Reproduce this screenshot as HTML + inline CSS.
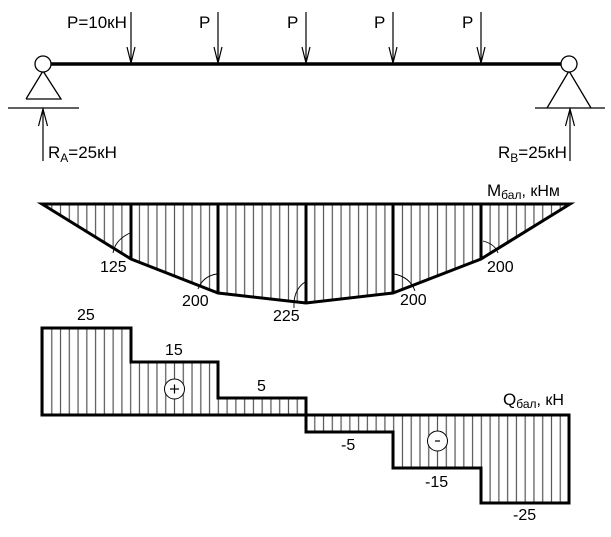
<!DOCTYPE html>
<html><head><meta charset="utf-8"><style>
html,body{margin:0;padding:0;background:#fff;}
svg{display:block;}
text{font-family:"Liberation Sans",Arial,sans-serif;fill:#000;}
</style></head><body>
<svg width="611" height="537" viewBox="0 0 611 537" xmlns="http://www.w3.org/2000/svg">
<defs>
<pattern id="h" patternUnits="userSpaceOnUse" x="38.62" y="0" width="8.767" height="20">
<line x1="4.38" y1="0" x2="4.38" y2="20" stroke="#555" stroke-width="1.2"/>
</pattern>
</defs>

<!-- Beam -->
<line x1="51" y1="64" x2="561" y2="64" stroke="#000" stroke-width="3.5"/>
<!-- Left support -->
<polyline points="26,99 43,71 61,99 26,99" fill="none" stroke="#000" stroke-width="1.3"/>
<circle cx="43" cy="64" r="8" fill="#fff" stroke="#000" stroke-width="1.3"/>
<line x1="8" y1="108" x2="79" y2="108" stroke="#000" stroke-width="1.3"/>
<line x1="43" y1="109" x2="43" y2="161" stroke="#000" stroke-width="1.2"/>
<polyline points="38.5,126 43,109 47.5,126" fill="none" stroke="#000" stroke-width="1.2"/>
<!-- Right support -->
<polyline points="547,108 569,71 591,108" fill="none" stroke="#000" stroke-width="1.3"/>
<circle cx="569" cy="64" r="8" fill="#fff" stroke="#000" stroke-width="1.3"/>
<line x1="535" y1="108" x2="605" y2="108" stroke="#000" stroke-width="1.3"/>
<line x1="570" y1="109" x2="570" y2="161" stroke="#000" stroke-width="1.2"/>
<polyline points="565.5,126 570,109 574.5,126" fill="none" stroke="#000" stroke-width="1.2"/>

<!-- Loads -->
<g stroke="#000" stroke-width="1.2" fill="none">
<line x1="131" y1="12" x2="131" y2="62"/><polyline points="127,47 131,63 135,47"/>
<line x1="218" y1="12" x2="218" y2="62"/><polyline points="214,47 218,63 222,47"/>
<line x1="306" y1="12" x2="306" y2="62"/><polyline points="302,47 306,63 310,47"/>
<line x1="393" y1="12" x2="393" y2="62"/><polyline points="389,47 393,63 397,47"/>
<line x1="481" y1="12" x2="481" y2="62"/><polyline points="477,47 481,63 485,47"/>
</g>
<g font-size="17">
<text x="67" y="28">P=10кН</text>
<text x="199" y="28">P</text>
<text x="287" y="28">P</text>
<text x="374" y="28">P</text>
<text x="462" y="28">P</text>
<text x="48" y="158">R<tspan font-size="12" dy="4">A</tspan><tspan dy="-4">=25кН</tspan></text>
<text x="498" y="158">R<tspan font-size="12" dy="4">B</tspan><tspan dy="-4">=25кН</tspan></text>
</g>

<!-- Moment diagram -->
<polygon points="42,204 131,259 218,293 306,303 393,293 481,259 570,204" fill="url(#h)"/>
<g stroke="#000" stroke-width="3">
<line x1="131" y1="204" x2="131" y2="259"/>
<line x1="218" y1="204" x2="218" y2="293"/>
<line x1="306" y1="204" x2="306" y2="303"/>
<line x1="393" y1="204" x2="393" y2="293"/>
<line x1="481" y1="204" x2="481" y2="259"/>
</g>
<polygon points="42,204 131,259 218,293 306,303 393,293 481,259 570,204" fill="none" stroke="#000" stroke-width="3" stroke-linejoin="miter"/>
<g stroke="#000" stroke-width="0.9" fill="none">
<path d="M113,253 Q115,240 130,233"/>
<path d="M198,289 Q203,276 217,274"/>
<path d="M294,308 Q293,290 305,282"/>
<path d="M394,274 Q410,277 415,291"/>
<path d="M483,241 Q495,244 498,253"/>
</g>
<g font-size="16">
<text x="100" y="272">125</text>
<text x="182" y="306">200</text>
<text x="273" y="321">225</text>
<text x="400" y="305">200</text>
<text x="487" y="272">200</text>
<text x="487" y="196" font-size="17">M<tspan font-size="12" dy="3">бал</tspan><tspan dy="-3" font-size="16">, кНм</tspan></text>
</g>

<!-- Shear diagram -->
<polygon points="42,415 42,328 131,328 131,362 218,362 218,398 306,398 306,415" fill="url(#h)"/>
<polygon points="306,415 306,432 393,432 393,468 481,468 481,503 569,503 569,415" fill="url(#h)"/>
<polyline points="306,415 42,415 42,328 131,328 131,362 218,362 218,398 306,398 306,432 393,432 393,468 481,468 481,503 569,503 569,415 306,415" fill="none" stroke="#000" stroke-width="3"/>
<circle cx="174.5" cy="389" r="10" fill="#fff" stroke="#000" stroke-width="1"/>
<line x1="170" y1="389" x2="179" y2="389" stroke="#000" stroke-width="1.2"/>
<line x1="174.5" y1="384.5" x2="174.5" y2="393.5" stroke="#000" stroke-width="1.2"/>
<circle cx="437.5" cy="441" r="10" fill="#fff" stroke="#000" stroke-width="1"/>
<line x1="435" y1="441" x2="440" y2="441" stroke="#000" stroke-width="1.2"/>
<g font-size="16">
<text x="77" y="320">25</text>
<text x="165" y="355">15</text>
<text x="257" y="391">5</text>
<text x="341" y="450">-5</text>
<text x="425" y="487">-15</text>
<text x="513" y="520">-25</text>
<text x="503" y="405" font-size="17">Q<tspan font-size="12" dy="3">бал</tspan><tspan dy="-3" font-size="16">, кН</tspan></text>
</g>
</svg>
</body></html>
